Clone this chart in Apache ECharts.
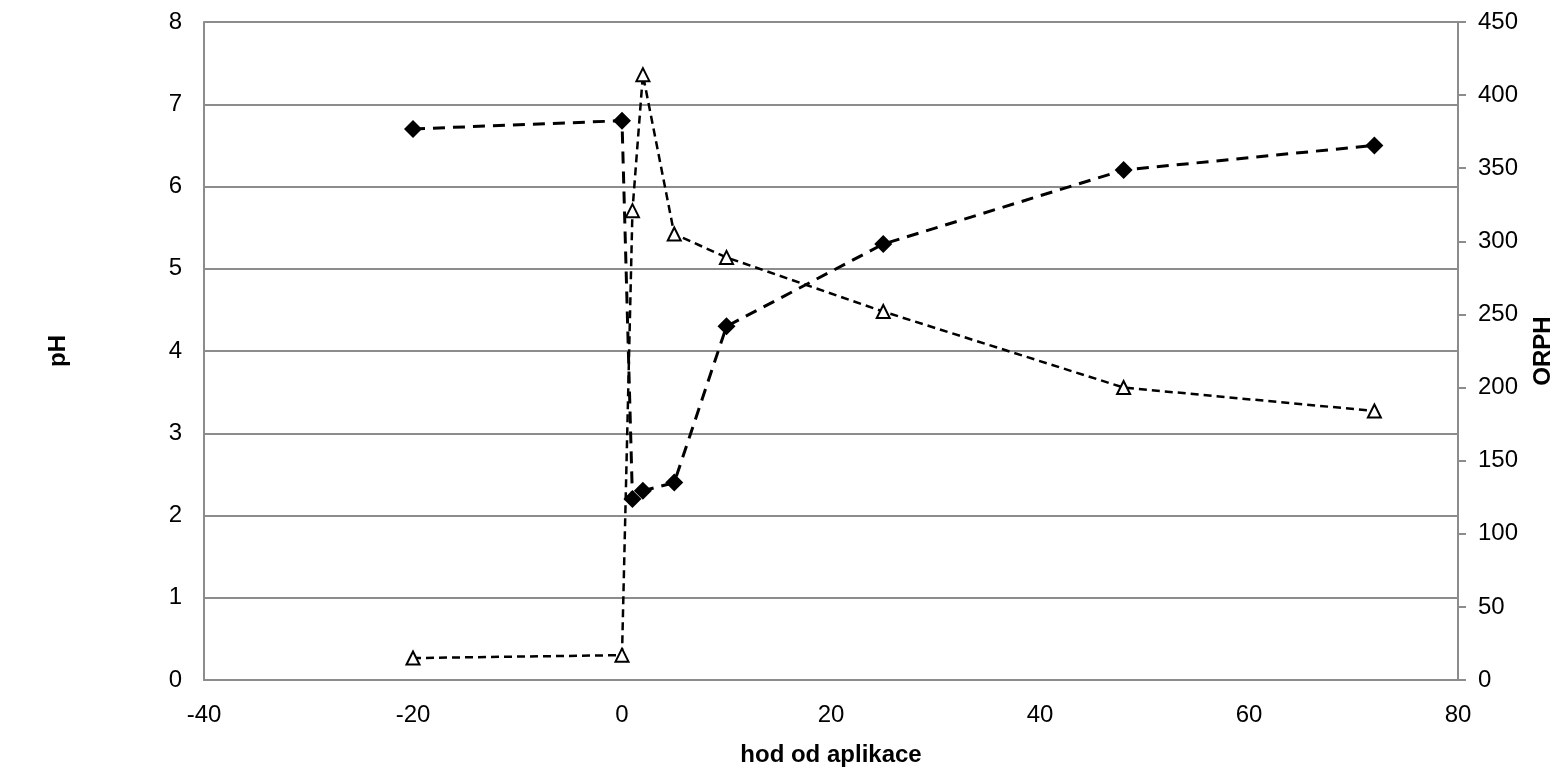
<!DOCTYPE html>
<html>
<head>
<meta charset="utf-8">
<script src="https://cdn.jsdelivr.net/npm/echarts@6/dist/echarts.min.js"></script>
<style>
  html, body { margin: 0; padding: 0; background: #fff; }
  #chart { width: 1563px; height: 768px; }
</style>
</head>
<body>
<div id="chart"></div>
<script>
// data
const hours = [-20, 0, 1, 2, 5, 10, 25, 48, 72];
const phValues = [6.7, 6.8, 2.2, 2.3, 2.4, 4.3, 5.3, 6.2, 6.5];
const orphValues = [15, 17, 321, 414, 305, 289, 252, 200, 184];

const phData = hours.map((h, i) => [h, phValues[i]]);
const orphData = hours.map((h, i) => [h, orphValues[i]]);

var chart = echarts.init(document.getElementById("chart"));
const font = "Liberation Sans, Arial, sans-serif";
const gray = "#8c8c8c";
const fs = 24;

var option = {
  backgroundColor: "#fff",
  animation: false,
  grid: { left: 204, right: 105, top: 22, bottom: 88, outerBoundsMode: "none", containLabel: false },
  xAxis: {
    type: "value",
    min: -40, max: 80, interval: 20,
    name: "hod od aplikace",
    nameLocation: "middle",
    nameGap: 63,
    nameTextStyle: { fontFamily: font, fontSize: fs, fontWeight: "bold", color: "#000" },
    axisLine: { show: true, onZero: false, lineStyle: { color: gray, width: 2 } },
    axisTick: { show: false },
    axisLabel: { fontFamily: font, fontSize: fs, color: "#000", margin: 23 },
    splitLine: { show: false }
  },
  yAxis: [
    {
      type: "value",
      min: 0, max: 8, interval: 1,
      name: "pH",
      nameLocation: "middle",
      nameGap: 134,
      nameRotate: 90,
      nameTextStyle: { fontFamily: font, fontSize: fs, fontWeight: "bold", color: "#000" },
      axisLine: { show: true, onZero: false, lineStyle: { color: gray, width: 2 } },
      axisTick: { show: false },
      axisLabel: { fontFamily: font, fontSize: fs, color: "#000", margin: 22 },
      splitLine: { show: true, lineStyle: { color: gray, width: 2 } }
    },
    {
      type: "value",
      min: 0, max: 450, interval: 50,
      name: "ORPH",
      nameLocation: "middle",
      nameGap: 73,
      nameRotate: 90,
      nameTextStyle: { fontFamily: font, fontSize: fs, fontWeight: "bold", color: "#000" },
      axisLine: { show: true, onZero: false, lineStyle: { color: gray, width: 2 } },
      axisTick: { show: true, length: 8, lineStyle: { color: gray, width: 2 } },
      axisLabel: { fontFamily: font, fontSize: fs, color: "#000", margin: 20 },
      splitLine: { show: false }
    }
  ],
  series: [
    {
      name: "pH",
      type: "line",
      yAxisIndex: 0,
      data: phData,
      symbol: "diamond",
      symbolSize: 18,
      itemStyle: { color: "#000" },
      lineStyle: { color: "#000", width: 3, type: [12, 8] },
      z: 3
    },
    {
      name: "ORPH",
      type: "line",
      yAxisIndex: 1,
      data: orphData,
      symbol: "triangle",
      symbolSize: 13,
      itemStyle: { color: "#fff", borderColor: "#000", borderWidth: 2 },
      lineStyle: { color: "#000", width: 2.5, type: [8, 5] },
      z: 2
    }
  ]
};

option && chart.setOption(option);
</script>
</body>
</html>
